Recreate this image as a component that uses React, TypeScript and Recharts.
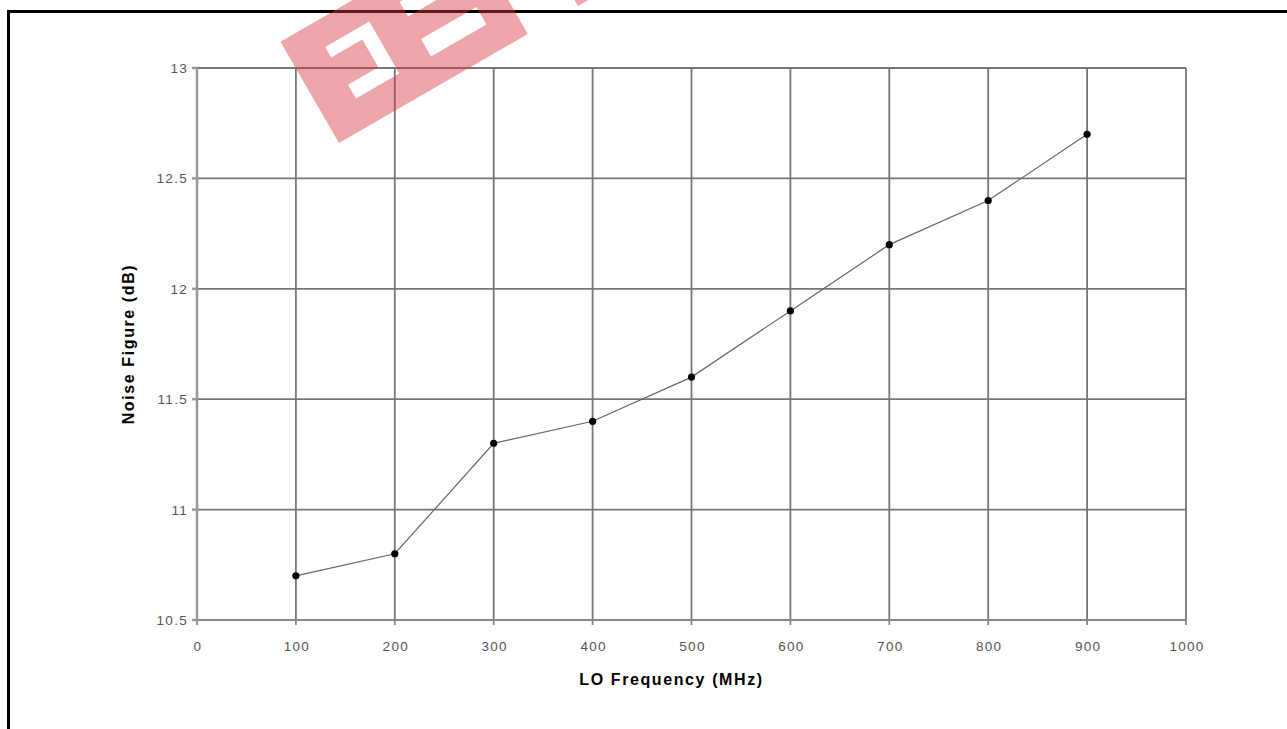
import React from 'react';
import { LineChart, Line, XAxis, YAxis, CartesianGrid } from 'recharts';

const frequencies = [100, 200, 300, 400, 500, 600, 700, 800, 900];
const noiseFigure = [10.7, 10.8, 11.3, 11.4, 11.6, 11.9, 12.2, 12.4, 12.7];
const xTicks = [0, 100, 200, 300, 400, 500, 600, 700, 800, 900, 1000];
const yTicks = [10.5, 11, 11.5, 12, 12.5, 13];

const data = frequencies.map((f, i) => ({ freq: f, nf: noiseFigure[i] }));

const FONT = "Arial, 'Liberation Sans', sans-serif";

const XTick = (props: any) => {
  const { x, y, payload } = props;
  return (
    <text x={x + 1} y={y} dy={22} textAnchor="middle" fill="#555" fontSize={13.5} fontFamily={FONT} letterSpacing={1.3}>
      {payload.value}
    </text>
  );
};

const YTick = (props: any) => {
  const { x, y, payload } = props;
  return (
    <text x={x} y={y} dy={5} textAnchor="end" fill="#555" fontSize={13.5} fontFamily={FONT} letterSpacing={1.3}>
      {payload.value}
    </text>
  );
};

const XTitle = (props: any) => {
  const vb = props.viewBox;
  return (
    <text x={vb.x + vb.width / 2 - 20} y={685} textAnchor="middle" fill="#000" fontSize={16} fontWeight="bold" fontFamily={FONT} letterSpacing={1.6}>
      LO Frequency (MHz)
    </text>
  );
};

const YTitle = (props: any) => {
  const vb = props.viewBox;
  const cx = vb.x - 9;
  const cy = vb.y + vb.height / 2;
  return (
    <text x={cx} y={cy} transform={`rotate(-90 ${cx} ${cy})`} textAnchor="middle" dominantBaseline="central" fill="#000" fontSize={16} fontWeight="bold" fontFamily={FONT} letterSpacing={1.6}>
      Noise Figure (dB)
    </text>
  );
};

const Dot = (props: any) => {
  const { cx, cy } = props;
  return <circle cx={cx} cy={cy} r={3.6} fill="#000" />;
};

const Watermark = () => (
  <svg width={1287} height={729} style={{ position: 'absolute', left: 0, top: 0, pointerEvents: 'none' }}>
    <g transform="translate(339,143) rotate(-30)">
      <path
        fillRule="evenodd"
        fill="rgba(215,55,65,0.45)"
        d={[
          'M0,-117 L218,-117 L218,0 L0,0 Z',
          'M36,-90 L87,-90 L87,-78 L36,-78 Z',
          'M72,-78 L87,-78 L87,-46 L72,-46 Z',
          'M37,-46 L87,-46 L87,-30 L37,-30 Z',
          'M123,-49 L187,-49 L187,-29 L123,-29 Z',
          'M123,-92 L187,-92 L187,-75 L123,-75 Z',
        ].join(' ')}
      />
    </g>
    <g transform="translate(578,6) rotate(-30)">
      <rect x={0} y={-60} width={60} height={60} fill="rgba(215,55,65,0.45)" />
    </g>
  </svg>
);

export default function App() {
  return (
    <div style={{ position: 'absolute', left: 0, top: 0, width: 1287, height: 729, overflow: 'hidden', background: '#fff' }}>
      <div style={{ position: 'absolute', left: 7, top: 10, width: 1400, height: 900, border: '3px solid #000', boxSizing: 'border-box' }} />
      <div style={{ position: 'absolute', left: 0, top: 0 }}>
        <LineChart width={1287} height={729} data={data} margin={{ top: 68, right: 101, bottom: 79, left: 137 }}>
          <CartesianGrid stroke="#777" strokeWidth={1.8} />
          <XAxis
            dataKey="freq"
            type="number"
            domain={[0, 1000]}
            ticks={xTicks}
            interval={0}
            height={30}
            tickSize={5}
            tickMargin={4}
            stroke="#888"
            strokeWidth={1.8}
            tick={<XTick />}
            label={<XTitle />}
          />
          <YAxis
            type="number"
            domain={[10.5, 13]}
            ticks={yTicks}
            interval={0}
            width={60}
            tickSize={5}
            tickMargin={4}
            stroke="#999"
            strokeWidth={2.5}
            tick={<YTick />}
            label={<YTitle />}
          />
          <Line
            dataKey="nf"
            type="linear"
            stroke="#666"
            strokeWidth={1.2}
            dot={<Dot />}
            activeDot={false}
            isAnimationActive={false}
          />
        </LineChart>
      </div>
      <Watermark />
    </div>
  );
}
